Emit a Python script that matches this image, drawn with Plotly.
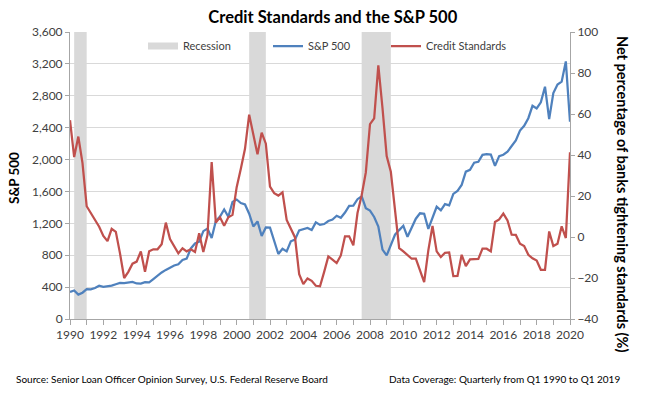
import plotly.graph_objects as go

# Quarterly categories, Q1 1990 .. Q1 2020
quarters = [f"{y}Q{q}" for y in range(1990, 2021) for q in range(1, 5)][:121]

sp500 = [
    340, 358, 306, 330, 375, 371, 388, 417, 404, 408, 418, 436,
    452, 451, 459, 466, 446, 444, 463, 459, 501, 545, 584, 616,
    646, 671, 687, 741, 757, 885, 947, 970, 1102, 1134, 1017, 1229,
    1286, 1373, 1283, 1469, 1499, 1455, 1437, 1320, 1160, 1224, 1041, 1148,
    1147, 990, 815, 880, 848, 975, 996, 1112, 1126, 1141, 1115, 1212,
    1181, 1191, 1229, 1248, 1295, 1270, 1336, 1418, 1421, 1503, 1540, 1390,
    1360, 1280, 1160, 870, 798, 919, 1057, 1115, 1169, 1031, 1141, 1258,
    1326, 1321, 1131, 1258, 1408, 1362, 1441, 1426, 1569, 1606, 1682, 1848,
    1872, 1960, 1972, 2059, 2068, 2063, 1920, 2044, 2060, 2099, 2168, 2239,
    2363, 2423, 2519, 2674, 2641, 2718, 2914, 2507, 2834, 2942, 2977, 3231,
    2475,
]

credit_standards = [
    57, 39, 49, 36, 15, 11.5, 8, 5, 0.5, -2,
    4, 2.5, -8, -20, -17, -13, -12, -7, -17, -7,
    -6, -6, -3.5, 7, -1, -4.5, -8, -5.5, -7, -6,
    -7.3, 1.8, -7.3, 1, 36.5, 7, 9.6, 5.5, 9.6, 10.8,
    24.3, 33.3, 43, 59.7, 49.6, 40.3, 50.9, 45.5, 24.6, 21.4,
    20.2, 21.8, 8.3, 3.9, -0.2, -18.1, -23, -20.2, -21.4, -23.8,
    -24, -17, -9.5, -11, -12.7, -9, 0.3, 0.3, -4.1, 11.7,
    20.4, 31.5, 55.1, 57.9, 83.7, 62.9, 39.5, 31.8, 13, -5.4,
    -7, -9, -10.6, -10.6, -16.3, -22, -6.5, 5.4, -7, -9.8,
    -7.7, -7.5, -19.1, -19, -8.7, -14.2, -10.9, -10.7, -10.7, -5.7,
    -5.7, -7, 7.3, 8.6, 11.4, 8.1, 1.1, 1, -3.3, -4.4,
    -8.7, -10.4, -11.5, -16, -16, 2.7, -4.4, -3.3, 5.2, -0.5,
    41.3,
]

recession_start = [1990.25, 2000.75, 2007.5]
recession_end = [1991.0, 2001.75, 2009.25]

x_tick_years = list(range(1990, 2021, 2))

# decimal year position of each quarter
x = [int(q[:4]) + (int(q[5]) - 1) / 4 for q in quarters]

FONT = "Lato"
BLUE = "#4F81BD"
RED = "#C0504D"
GRAY = "#D9D9D9"
AXIS = "#A6A6A6"
TXT = "#404040"

fig = go.Figure()
fig.add_trace(go.Scatter(x=[None], y=[None], mode="lines", name="Recession",
                         line=dict(color=GRAY, width=7), legend="legend"))
fig.add_trace(go.Scatter(x=x, y=sp500, mode="lines", name="S&P 500",
                         line=dict(color=BLUE, width=2.25), legend="legend2"))
fig.add_trace(go.Scatter(x=x, y=credit_standards, mode="lines", name="Credit Standards",
                         yaxis="y2", line=dict(color=RED, width=2.25), legend="legend3"))

for s, e in zip(recession_start, recession_end):
    fig.add_shape(type="rect", xref="x", yref="paper", x0=s, x1=e, y0=0, y1=1,
                  fillcolor=GRAY, line_width=0, layer="between")

leg_common = dict(orientation="h", xanchor="left", y=0.951, yanchor="middle",
                  bgcolor="rgba(0,0,0,0)", font=dict(size=11, color=TXT),
                  itemwidth=30, borderwidth=0)

fig.update_layout(
    width=645, height=398,
    margin=dict(l=70, r=75, t=32, b=79),
    paper_bgcolor="white", plot_bgcolor="white",
    font=dict(family=FONT, size=12, color=TXT),
    title=dict(text="<b>Credit Standards and the S&P 500</b>", x=0.516, xref="container",
               y=1 - 17 / 398, yref="container", xanchor="center", yanchor="middle",
               font=dict(family=FONT, size=16.5, color="black")),
    showlegend=True,
    legend=dict(x=0.146, **leg_common),
    legend2=dict(x=0.396, **leg_common),
    legend3=dict(x=0.632, **leg_common),
    xaxis=dict(range=[1990, 2020], tickmode="array", tickvals=x_tick_years,
               ticktext=[str(v) for v in x_tick_years],
               ticks="outside", ticklen=5, tickcolor=AXIS, showline=True, linecolor=AXIS,
               showgrid=False, zeroline=False, tickfont=dict(size=12, color=TXT),
               minor=dict(dtick=1, tick0=1990, ticks="outside", ticklen=5, tickcolor=AXIS,
                          showgrid=False)),
    yaxis=dict(range=[0, 3600], dtick=400, tick0=0, tickformat=",", showgrid=True,
               gridcolor=GRAY, gridwidth=1, showline=True, linecolor=AXIS, ticks="outside",
               ticklen=4, tickcolor=AXIS, zeroline=False, tickfont=dict(size=12, color=TXT)),
    yaxis2=dict(range=[-40, 100], dtick=20, tick0=-40, overlaying="y", side="right",
                showgrid=False, showline=True, linecolor=AXIS, ticks="outside", ticklen=4,
                tickcolor=AXIS, zeroline=False, tickfont=dict(size=12, color=TXT)),
    annotations=[
        dict(text="<b>S&P 500</b>", xref="paper", yref="paper", x=-0.112, y=(319 - 178) / 287,
             textangle=-90, showarrow=False, font=dict(size=13.5, color="black"),
             xanchor="center", yanchor="middle"),
        dict(text="<b>Net percentage of banks tightening standards (%)</b>", xref="paper",
             yref="paper", x=(623 - 70) / 500, y=(319 - 194) / 287, textangle=90,
             showarrow=False, font=dict(size=14.5, color="black"),
             xanchor="center", yanchor="middle"),
        dict(text="Source: Senior Loan Officer Opinion Survey, U.S. Federal Reserve Board",
             xref="paper", yref="paper", x=(14 - 70) / 500, y=(319 - 379) / 287,
             xanchor="left", yanchor="middle", showarrow=False,
             font=dict(size=10, color="black")),
        dict(text="Data Coverage: Quarterly from Q1 1990 to Q1 2019",
             xref="paper", yref="paper", x=(622 - 70) / 500, y=(319 - 379) / 287,
             xanchor="right", yanchor="middle", showarrow=False,
             font=dict(size=10, color="black")),
    ],
)

fig.write_html("out.html", config={"displayModeBar": False},
               post_script="document.body.style.margin='0';")
